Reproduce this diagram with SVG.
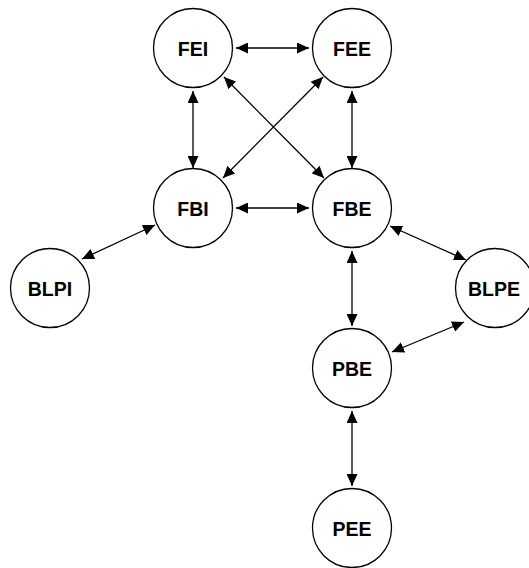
<svg xmlns="http://www.w3.org/2000/svg" width="529" height="568" viewBox="0 0 529 568">
<style>
.node circle{fill:#fff;stroke:#000;stroke-width:1.3}
.node text{font-family:"Liberation Sans",Arial,sans-serif;font-size:19.5px;font-weight:bold;text-anchor:middle;fill:#000}
.edges line{stroke:#000;stroke-width:1.3;marker-start:url(#ah);marker-end:url(#ah)}
</style>
<defs>
<marker id="ah" viewBox="0 0 12 11" refX="12" refY="5.5" markerWidth="12" markerHeight="11" markerUnits="userSpaceOnUse" orient="auto-start-reverse">
<path d="M0,0 L12,5.5 L0,11 z" fill="#000"/>
</marker>
</defs>
<rect width="529" height="568" fill="#fff"/>
<g class="edges">
<line x1="236" y1="48" x2="309" y2="48"/>
<line x1="193" y1="91" x2="193" y2="168"/>
<line x1="352" y1="91" x2="352" y2="168"/>
<line x1="224" y1="77" x2="324" y2="178"/>
<line x1="323" y1="77" x2="223" y2="178"/>
<line x1="236" y1="208" x2="309" y2="208"/>
<line x1="155" y1="225" x2="82" y2="259"/>
<line x1="390" y1="226" x2="466" y2="260"/>
<line x1="352" y1="251" x2="352" y2="326"/>
<line x1="464" y1="322" x2="392" y2="352"/>
<line x1="352" y1="411" x2="352" y2="486"/>
</g>
<g id="FEI" class="node"><circle cx="193" cy="48" r="39.5"/><text x="193" y="56">FEI</text></g>
<g id="FEE" class="node"><circle cx="352" cy="48" r="39.5"/><text x="352" y="56">FEE</text></g>
<g id="FBI" class="node"><circle cx="193" cy="208" r="39.5"/><text x="193" y="216">FBI</text></g>
<g id="FBE" class="node"><circle cx="352" cy="208" r="39.5"/><text x="352" y="216">FBE</text></g>
<g id="BLPI" class="node"><circle cx="50" cy="288" r="39.5"/><text x="50" y="296">BLPI</text></g>
<g id="BLPE" class="node"><circle cx="495" cy="288" r="39.5"/><text x="494" y="296">BLPE</text></g>
<g id="PBE" class="node"><circle cx="352" cy="368" r="39.5"/><text x="352" y="376">PBE</text></g>
<g id="PEE" class="node"><circle cx="352" cy="528" r="39.5"/><text x="352" y="536">PEE</text></g>
</svg>
